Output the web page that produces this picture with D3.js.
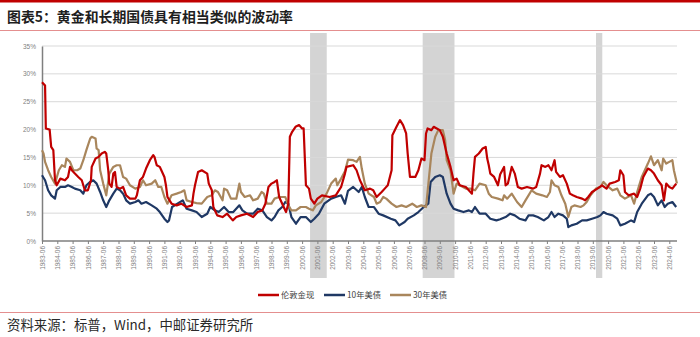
<!DOCTYPE html>
<html><head><meta charset="utf-8">
<script src="https://cdn.jsdelivr.net/npm/d3@7"></script>
<style>
html,body{margin:0;padding:0;background:#fff;}
svg{display:block;}
</style></head>
<body><svg id="c" width="700" height="337"></svg>
<script>
const title = "图表5：黄金和长期国债具有相当类似的波动率";
const source = "资料来源：标普，Wind，中邮证券研究所";
const seriesNames = ["伦敦金现", "10年美债", "30年美债"];
const seriesColors = ["#c00000", "#1f3864", "#a9865c"];

const xTickLabels = ["1983-06","1984-06","1985-06","1986-06","1987-06","1988-06","1989-06","1990-06","1991-06","1992-06","1993-06","1994-06","1995-06","1996-06","1997-06","1998-06","1999-06","2000-06","2001-06","2002-06","2003-06","2004-06","2005-06","2006-06","2007-06","2008-06","2009-06","2010-06","2011-06","2012-06","2013-06","2014-06","2015-06","2016-06","2017-06","2018-06","2019-06","2020-06","2021-06","2022-06","2023-06","2024-06"];
const yTickValues = [0, 0.05, 0.10, 0.15, 0.20, 0.25, 0.30, 0.35];

// recession shading (decimal years, June = .5)
const shadeStart = [2001.02, 2008.38, 2019.71];
const shadeEnd   = [2002.11, 2010.46, 2020.12];

// 伦敦金现
const goldT = [1983.5,1983.7,1983.75,1984.0,1984.1,1984.24,1984.35,1984.46,1984.7,1985.0,1985.2,1985.33,1985.45,1985.65,1985.87,1986.1,1986.3,1986.5,1986.7,1986.75,1987.0,1987.2,1987.4,1987.6,1987.7,1987.83,1987.9,1988.05,1988.16,1988.27,1988.38,1988.6,1988.8,1989.0,1989.25,1989.6,1989.7,1989.9,1990.1,1990.3,1990.55,1990.77,1990.85,1991.0,1991.2,1991.3,1991.5,1991.6,1991.7,1991.97,1992.3,1992.6,1992.95,1993.3,1993.4,1993.5,1993.7,1993.94,1994.3,1994.4,1994.6,1994.7,1994.95,1995.3,1995.6,1995.97,1996.2,1996.5,1996.9,1997.3,1997.6,1997.9,1998.1,1998.3,1998.5,1998.7,1998.85,1999.0,1999.2,1999.45,1999.6,1999.7,1999.85,2000.07,2000.3,2000.5,2000.6,2000.75,2000.95,2001.07,2001.3,2001.5,2001.8,2002.3,2002.7,2003.05,2003.3,2003.4,2003.84,2004.06,2004.28,2004.6,2004.94,2005.15,2005.37,2005.7,2005.9,2006.1,2006.35,2006.4,2006.67,2006.9,2007.1,2007.3,2007.4,2007.55,2007.9,2008.1,2008.3,2008.5,2008.6,2008.7,2008.95,2009.1,2009.3,2009.5,2009.7,2009.95,2010.2,2010.4,2010.6,2010.8,2011.2,2011.5,2011.6,2011.7,2011.8,2012.05,2012.3,2012.5,2012.6,2012.7,2012.8,2013.05,2013.3,2013.45,2013.7,2013.8,2013.95,2014.2,2014.4,2014.6,2014.85,2015.2,2015.6,2015.8,2016.05,2016.15,2016.4,2016.6,2016.8,2017.0,2017.1,2017.35,2017.55,2017.8,2018.0,2018.2,2018.45,2018.8,2019.0,2019.2,2019.45,2019.8,2020.1,2020.4,2020.6,2020.96,2021.2,2021.3,2021.5,2021.6,2021.85,2022.2,2022.4,2022.6,2022.8,2023.1,2023.3,2023.5,2023.75,2024.0,2024.15,2024.3,2024.5,2024.7,2024.95];
const goldV = [28.5,27.9,20.2,20.0,16.9,16.3,10.9,10.0,11.2,10.9,11.5,13.3,12.7,12.1,11.5,10.9,9.1,9.1,10.9,13.3,14.8,15.1,15.7,16.0,15.7,12.7,10.3,9.7,12.1,12.4,9.7,9.4,9.7,8.2,7.6,7.6,8.2,10.9,11.5,13.0,14.5,15.4,15.1,13.6,13.3,12.7,11.5,10.0,7.9,6.7,6.4,6.7,6.1,6.4,8.5,10.0,12.4,12.7,12.1,10.3,9.1,6.1,4.6,4.3,4.9,3.7,4.3,4.6,4.9,4.3,5.2,5.5,6.7,9.7,10.3,10.6,10.9,7.9,6.7,5.2,6.7,18.7,19.6,20.5,20.8,20.2,20.2,10.0,9.4,7.6,6.7,7.6,8.2,7.9,8.2,9.7,12.1,13.3,13.6,12.7,10.9,9.1,9.4,9.1,7.9,8.8,9.4,10.0,12.7,19.0,20.5,21.7,20.8,19.3,15.7,11.5,11.5,12.7,14.8,14.5,19.3,20.2,19.9,20.5,20.2,19.9,18.7,15.7,13.3,10.9,11.2,10.0,9.7,8.8,8.5,12.1,15.1,15.7,16.6,16.9,14.8,13.6,12.1,11.5,10.0,12.0,13.3,10.0,10.3,13.3,12.1,9.7,9.4,9.7,9.4,9.7,12.1,13.6,13.3,13.6,12.7,14.5,12.4,11.5,11.8,10.3,8.5,8.2,7.9,7.6,7.3,7.9,8.8,9.4,10.0,9.4,10.3,10.6,10.9,12.7,11.8,8.8,8.2,8.5,7.9,9.4,11.5,13.0,12.7,12.1,10.9,10.0,7.3,10.3,9.7,9.4,10.3];

// 10年美债
const t10T = [1983.5,1983.7,1983.9,1984.1,1984.35,1984.46,1984.7,1985.0,1985.2,1985.45,1985.65,1986.0,1986.2,1986.4,1986.65,1986.85,1987.07,1987.3,1987.5,1987.7,1987.9,1988.16,1988.38,1988.6,1988.8,1989.0,1989.25,1989.6,1989.8,1990.0,1990.3,1990.67,1991.0,1991.2,1991.5,1991.7,1991.8,1992.0,1992.35,1992.7,1992.95,1993.3,1993.6,1993.94,1994.3,1994.5,1994.8,1995.05,1995.4,1995.7,1996.0,1996.4,1996.6,1996.9,1997.3,1997.6,1997.9,1998.2,1998.5,1998.7,1998.95,1999.2,1999.4,1999.6,1999.8,2000.1,2000.4,2000.75,2001.07,2001.3,2001.6,2001.95,2002.4,2002.7,2003.05,2003.3,2003.5,2003.84,2004.2,2004.4,2004.6,2004.85,2005.2,2005.5,2005.8,2006.3,2006.6,2006.85,2007.2,2007.4,2007.8,2008.1,2008.45,2008.75,2008.9,2009.2,2009.5,2009.7,2009.95,2010.2,2010.4,2010.7,2011.05,2011.4,2011.6,2011.8,2012.1,2012.5,2012.8,2013.2,2013.45,2013.8,2014.1,2014.4,2014.7,2015.1,2015.3,2015.6,2015.9,2016.3,2016.6,2016.8,2017.0,2017.25,2017.55,2017.8,2017.9,2018.1,2018.45,2018.8,2019.1,2019.45,2019.8,2020.0,2020.2,2020.4,2020.8,2021.1,2021.3,2021.6,2022.0,2022.2,2022.4,2022.7,2023.1,2023.3,2023.5,2023.75,2024.0,2024.2,2024.4,2024.7,2024.95];
const t10V = [11.8,10.9,9.1,8.2,7.6,9.1,9.7,9.7,10.0,9.7,9.4,9.1,8.5,10.0,10.6,10.9,10.3,8.8,7.3,6.1,7.3,8.5,9.4,9.1,8.5,7.3,6.7,7.0,7.3,6.7,7.0,6.4,5.8,5.2,4.0,3.4,3.7,6.1,6.7,7.3,5.8,5.5,5.2,4.3,4.9,6.1,5.5,5.2,6.1,5.2,5.2,6.4,5.5,4.9,4.9,5.8,5.5,4.3,3.7,4.3,5.5,6.1,7.0,6.7,4.3,3.1,4.3,4.3,3.4,4.0,4.9,6.7,7.6,7.9,8.2,6.7,9.0,9.7,8.8,9.7,7.9,6.1,6.1,4.9,4.6,4.0,3.7,2.8,3.4,4.0,4.6,5.2,6.1,6.7,10.6,11.5,11.8,11.5,8.5,6.7,5.8,5.5,5.2,5.5,5.2,6.1,4.9,4.9,4.0,3.7,3.9,4.3,4.9,4.6,4.0,3.7,4.6,4.6,4.3,3.7,4.3,5.2,4.3,4.9,4.6,4.0,2.5,2.8,3.1,3.7,3.7,4.0,4.3,4.6,5.2,4.9,4.6,4.0,2.8,3.1,3.7,3.4,5.2,6.7,8.2,8.5,7.9,6.4,7.3,6.1,6.7,7.0,6.1];

// 30年美债
const t30T = [1983.5,1983.6,1983.7,1983.9,1984.1,1984.35,1984.6,1984.8,1985.0,1985.1,1985.33,1985.55,1985.8,1986.0,1986.2,1986.4,1986.65,1986.75,1987.0,1987.07,1987.2,1987.3,1987.5,1987.7,1987.9,1988.16,1988.38,1988.6,1988.8,1989.0,1989.25,1989.6,1989.9,1990.1,1990.3,1990.67,1990.9,1991.1,1991.3,1991.5,1991.7,1991.97,1992.3,1992.6,1992.8,1992.95,1993.3,1993.6,1993.94,1994.3,1994.6,1994.8,1995.0,1995.3,1995.4,1995.6,1995.85,1996.2,1996.4,1996.5,1996.75,1997.1,1997.3,1997.6,1997.85,1998.0,1998.2,1998.5,1998.7,1999.0,1999.4,1999.6,1999.8,2000.1,2000.4,2000.75,2000.95,2001.2,2001.4,2001.75,2002.1,2002.4,2002.7,2002.8,2003.05,2003.3,2003.5,2003.84,2004.06,2004.28,2004.4,2004.6,2004.85,2005.2,2005.37,2005.6,2005.8,2006.0,2006.35,2006.67,2007.0,2007.3,2007.7,2008.0,2008.3,2008.6,2008.7,2008.95,2009.2,2009.4,2009.7,2009.85,2009.95,2010.2,2010.4,2010.6,2010.8,2011.2,2011.5,2011.8,2012.1,2012.5,2012.7,2012.9,2013.3,2013.6,2013.7,2013.9,2014.2,2014.55,2014.85,2015.1,2015.3,2015.5,2015.8,2016.2,2016.5,2016.7,2016.8,2017.0,2017.25,2017.45,2017.7,2017.9,2018.1,2018.3,2018.7,2018.9,2019.1,2019.35,2019.7,2020.0,2020.2,2020.4,2020.8,2021.1,2021.3,2021.6,2022.0,2022.2,2022.4,2022.7,2023.1,2023.3,2023.5,2023.75,2024.0,2024.1,2024.3,2024.5,2024.7,2024.8,2025.0];
const t30V = [16.3,15.7,14.2,12.7,11.5,10.3,12.7,13.6,13.3,14.8,14.2,12.7,12.7,13.0,14.5,16.3,18.4,18.7,18.4,16.6,16.3,12.7,10.3,8.2,12.1,13.3,13.6,13.6,11.5,11.2,10.0,9.4,9.7,10.9,10.0,10.3,10.9,9.7,9.7,7.9,6.7,8.2,8.5,8.8,9.1,7.3,7.0,6.8,6.7,7.9,8.2,9.1,8.8,7.3,9.4,9.1,7.6,7.6,10.3,8.8,7.9,8.2,7.3,7.6,8.8,8.5,6.7,6.7,7.6,7.9,7.9,6.4,5.5,5.5,6.1,6.1,5.8,5.5,6.4,7.0,8.5,10.3,11.2,10.0,11.2,12.5,14.6,14.5,14.2,15.1,13.0,10.3,8.5,7.9,6.7,7.0,7.9,7.6,6.7,6.1,6.4,6.1,6.7,6.1,6.4,6.1,8.8,15.7,18.7,19.9,19.9,18.1,14.5,12.7,8.5,10.3,10.0,9.4,9.4,9.1,10.3,10.0,8.5,7.9,7.6,7.3,8.2,7.6,8.5,7.0,6.1,7.3,8.2,9.1,8.5,8.2,7.9,8.8,10.9,10.0,9.7,8.2,6.7,4.3,6.1,6.4,6.1,6.4,7.0,8.2,9.4,9.7,10.6,10.0,9.1,9.4,8.2,7.6,8.2,6.7,8.8,11.5,13.9,15.2,13.6,14.5,12.7,14.8,13.9,14.2,14.5,12.7,10.3];

const svg = d3.select("#c");
const W = 700, H = 337;
const fontLat = "'Liberation Sans', Arial, 'Noto Sans CJK SC', sans-serif";
const fontCJK = "'Noto Sans CJK SC', 'Liberation Sans', sans-serif";

// header / footer rules
svg.append("rect").attr("x",0).attr("y",0).attr("width",W).attr("height",2.5).attr("fill","#c00000");
svg.append("text").attr("x",7).attr("y",22).text(title)
  .attr("font-family",fontCJK).attr("font-weight",700).attr("font-size",13.9).attr("fill","#1e1e1e");
svg.append("line").attr("x1",0).attr("x2",W).attr("y1",30.5).attr("y2",30.5).attr("stroke","#e48f8f").attr("stroke-width",1);
svg.append("line").attr("x1",0).attr("x2",W).attr("y1",312.5).attr("y2",312.5).attr("stroke","#e48f8f").attr("stroke-width",1);
svg.append("text").attr("x",7).attr("y",330).text(source)
  .attr("font-family",fontCJK).attr("font-size",13.4).attr("fill","#2a2a2a");

// scales
const tickPos = xTickLabels.map(s => +s.slice(0,4) + 0.5);
const x = d3.scaleLinear().domain([1983.5, 2024.5]).range([42, 669.3]);
const y = d3.scaleLinear().domain([0, 0.35]).range([241, 46]);
const plotRight = 677;

// recession shading
svg.append("g").selectAll("rect").data(shadeStart.map((s,i)=>[s,shadeEnd[i]])).join("rect")
  .attr("x", d=>x(d[0])).attr("width", d=>x(d[1])-x(d[0]))
  .attr("y", 33).attr("height", 245).attr("fill","#d4d4d4");

// gridlines
svg.append("g").selectAll("line").data(yTickValues.filter(v=>v>0)).join("line")
  .attr("x1",42).attr("x2",plotRight).attr("y1",d=>y(d)).attr("y2",d=>y(d))
  .attr("stroke","#d9d9d9").attr("stroke-width",1);

// y axis
const yAxis = d3.axisLeft(y).tickValues(yTickValues).tickFormat(d=>Math.round(d*100)+"%").tickSize(0).tickPadding(6);
const gy = svg.append("g").attr("transform","translate(42,0)").call(yAxis);
gy.select(".domain").attr("stroke","#7f7f7f").attr("stroke-width",1.5);
gy.selectAll("text").attr("font-family",fontLat).attr("font-size",6.5).attr("fill","#7f7f7f");

// x axis
const xAxis = d3.axisBottom(x).tickValues(tickPos).tickFormat((d,i)=>xTickLabels[i]).tickSize(3).tickSizeOuter(0);
const gx = svg.append("g").attr("transform","translate(0,241)").call(xAxis);
gx.select(".domain").attr("d", `M42,0H${plotRight}`).attr("stroke","#7f7f7f").attr("stroke-width",1.5);
gx.selectAll(".tick line").attr("stroke","#7f7f7f").attr("stroke-width",1);
gx.selectAll("text").attr("font-family",fontLat).attr("font-size",6.5).attr("fill","#7f7f7f")
  .attr("transform","rotate(-90)").attr("text-anchor","end").attr("dy","0.33em").attr("x",-5).attr("y",0);

// lines
const series = [[goldT,goldV],[t10T,t10V],[t30T,t30V]];
const line = d3.line().x(d=>x(d[0])).y(d=>y(d[1]/100)).curve(d3.curveLinear);
const order = [1,2,0];
order.forEach(i=>{
  const [T,V] = series[i];
  svg.append("path").datum(T.map((t,j)=>[t,V[j]]))
    .attr("d", line).attr("fill","none").attr("stroke",seriesColors[i])
    .attr("stroke-width",2.2).attr("stroke-linejoin","round");
});

// legend
const legX = [258, 324, 390];
const lg = svg.append("g");
seriesNames.forEach((n,i)=>{
  lg.append("line").attr("x1",legX[i]).attr("x2",legX[i]+21).attr("y1",295).attr("y2",295)
    .attr("stroke",seriesColors[i]).attr("stroke-width",2.5);
  lg.append("text").attr("x",legX[i]+23).attr("y",298).text(n)
    .attr("font-family",fontCJK).attr("font-size",8.3).attr("fill","#404040");
});
</script></body></html>
